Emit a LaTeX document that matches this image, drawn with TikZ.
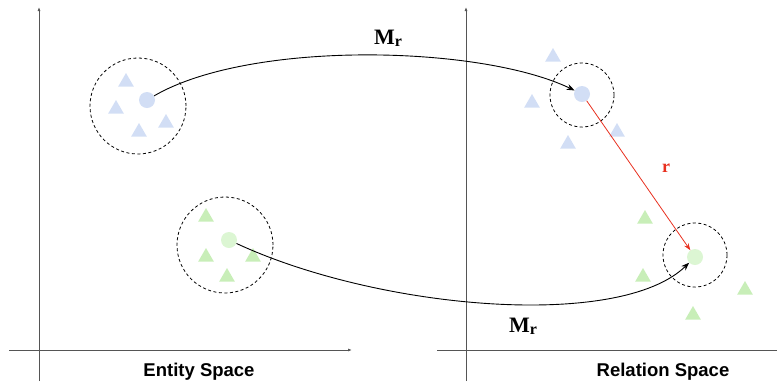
\documentclass[tikz,border=0pt]{standalone}
\usepackage{fontspec}
\setmainfont{Liberation Serif}
\setsansfont{Liberation Sans}
\usetikzlibrary{shapes.geometric,arrows.meta}
\definecolor{eblue}{HTML}{D2DEF5}
\definecolor{egreen}{HTML}{C8EEB8}
\definecolor{egreendot}{HTML}{DCF6D3}
\definecolor{axisgray}{HTML}{555555}
\definecolor{rred}{HTML}{E8301F}
\tikzset{
  tri/.style={regular polygon, regular polygon sides=3, minimum size=18pt, inner sep=0pt, draw=none, fill=#1},
  dot/.style={circle, minimum size=16pt, inner sep=0pt, draw=none, fill=#1},
  halo/.style={circle, draw=black, dashed, dash pattern=on 3pt off 2.5pt, line width=0.8pt, minimum size=#1, inner sep=0pt},
  axis/.style={draw=axisgray, line width=0.9pt, -{Latex[length=4pt,width=3pt]}},
  map/.style={draw=black, line width=0.9pt, -{Stealth[length=8pt,width=6pt]}},
  mlabel/.style={font=\fontsize{22}{24}\selectfont\bfseries},
  spacelabel/.style={font=\sffamily\bfseries\fontsize{18.5}{21}\selectfont}
}
\begin{document}
\begin{tikzpicture}[x=1pt,y=-1pt]
\useasboundingbox (0,0) rectangle (777,384);
% axes
\coordinate (l0) at (39,381); \coordinate (l1) at (39,7);
\coordinate (l2) at (9,350); \coordinate (l3) at (352,350);
\coordinate (r0) at (466,381); \coordinate (r1) at (466,7);
\coordinate (r2) at (437,350); \coordinate (r3) at (777,350);
\draw[axis] (l0) -- (l1);
\draw[axis] (l2) -- (l3);
\draw[axis] (r0) -- (r1);
\draw[axis,-] (r2) -- (r3);
% left blue cluster
\node[halo=96pt] (hb1) at (138,106) {};
\node[tri=eblue] (tb1) at (126,82) {};
\node[tri=eblue] (tb2) at (116,109) {};
\node[tri=eblue] (tb3) at (139,132) {};
\node[tri=eblue] (tb4) at (166,123) {};
\node[dot=eblue] (b1) at (147,100) {};
% left green cluster
\node[halo=96pt] (hg1) at (225,245) {};
\node[tri=egreen] (tg1) at (206,217) {};
\node[tri=egreen] (tg2) at (206,257) {};
\node[tri=egreen] (tg3) at (227,277) {};
\node[tri=egreen] (tg4) at (253,257) {};
\node[dot=egreendot] (g1) at (229,240) {};
% right blue cluster
\node[halo=64pt] (hb2) at (582,95) {};
\node[tri=eblue] (tb5) at (553,57) {};
\node[tri=eblue] (tb6) at (532,103) {};
\node[tri=eblue] (tb7) at (568,144) {};
\node[tri=eblue] (tb8) at (617,132) {};
\node[dot=eblue] (b2) at (582,94) {};
% right green cluster
\node[halo=64pt] (hg2) at (695,255) {};
\node[tri=egreen] (tg5) at (645,219) {};
\node[tri=egreen] (tg6) at (643,277) {};
\node[tri=egreen] (tg7) at (693,315) {};
\node[tri=egreen] (tg8) at (745,290) {};
\node[dot=egreendot] (g2) at (695,257) {};
% mappings
\draw[map] (b1) .. controls (250,40) and (480,45) .. (b2);
\draw[map] (g1) .. controls (380,310) and (620,330) .. (g2);
\draw[draw=rred, line width=0.8pt, -{Stealth[length=7pt,width=5pt]}] (b2) -- (g2);
% labels
\node[mlabel] (m1) at (388,38) {M\raisebox{-0.2ex}{\fontsize{16}{18}\selectfont r}};
\node[mlabel] (m2) at (523,326) {M\raisebox{-0.2ex}{\fontsize{16}{18}\selectfont r}};
\node[font=\fontsize{18}{20}\selectfont\bfseries, text=rred] (rl) at (666,168) {r};
\node[spacelabel] (es) at (199,372) {Entity Space};
\node[spacelabel] (rs) at (663,372) {Relation Space};
\end{tikzpicture}
\end{document}
